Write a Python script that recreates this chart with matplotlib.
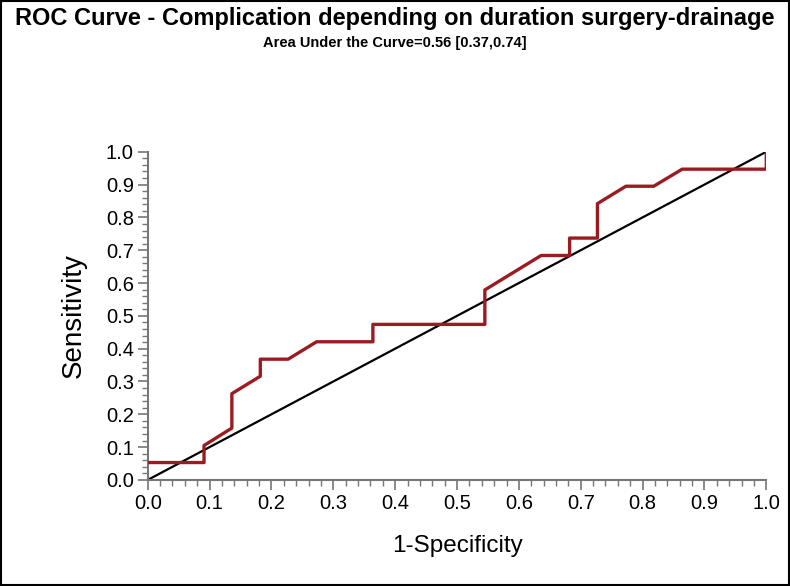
import numpy as np
import matplotlib
matplotlib.use("Agg")
import matplotlib.pyplot as plt
from matplotlib.ticker import MultipleLocator

plt.rcParams['font.family'] = ['Liberation Sans', 'DejaVu Sans']

# ROC curve points (1-specificity, sensitivity)
fpr = [0.0, 0.091, 0.091, 0.136, 0.136, 0.182, 0.182, 0.227, 0.273, 0.364, 0.364,
       0.545, 0.545, 0.636, 0.682, 0.682, 0.727, 0.727, 0.773, 0.818, 0.864, 1.0, 1.0]
tpr = [0.053, 0.053, 0.105, 0.158, 0.263, 0.316, 0.368, 0.368, 0.421, 0.421, 0.474,
       0.474, 0.579, 0.684, 0.684, 0.737, 0.737, 0.842, 0.895, 0.895, 0.947, 0.947, 1.0]
ref_line = [0.0, 1.0]

title = "ROC Curve - Complication depending on duration surgery-drainage"
subtitle = "Area Under the Curve=0.56 [0.37,0.74]"
ticks = np.round(np.arange(0, 1.01, 0.1), 1)

fig = plt.figure(figsize=(7.9, 5.86), dpi=100)
ax = fig.add_axes([0.187, 0.181, 0.783, 0.560])

ax.plot(ref_line, ref_line, color="black", lw=1.6, zorder=2)
ax.plot(fpr, tpr, color="#9b1c20", lw=2.4, zorder=3)

ax.set_xlim(0, 1.0)
ax.set_ylim(0, 1.0)
ax.set_xticks(ticks)
ax.set_yticks(ticks)
ax.set_xticklabels(["%.1f" % t for t in ticks])
ax.set_yticklabels(["%.1f" % t for t in ticks])
ax.xaxis.set_minor_locator(MultipleLocator(0.02))
ax.yaxis.set_minor_locator(MultipleLocator(0.02))
ax.tick_params(which="major", length=7, width=1.2, color="#777777", labelsize=14.5, pad=3)
ax.tick_params(which="minor", length=4, width=1.0, color="#777777")

for s in ["top", "right"]:
    ax.spines[s].set_visible(False)
for s in ["left", "bottom"]:
    ax.spines[s].set_color("#777777")
    ax.spines[s].set_linewidth(1.5)

ax.set_xlabel("1-Specificity", fontsize=17.5, labelpad=16)
ax.set_ylabel("Sensitivity", fontsize=20, labelpad=14)

fig.text(0.5, 0.969, title, ha="center", va="center", fontsize=17, fontweight="bold")
fig.text(0.5, 0.926, subtitle, ha="center", va="center", fontsize=10.5, fontweight="bold")

# black frame around figure
fig.patches.append(plt.Rectangle((0.001, 0.001), 0.998, 0.998, transform=fig.transFigure,
                                 fill=False, edgecolor="black", lw=1.5))

plt.savefig("out.png", dpi=100)
